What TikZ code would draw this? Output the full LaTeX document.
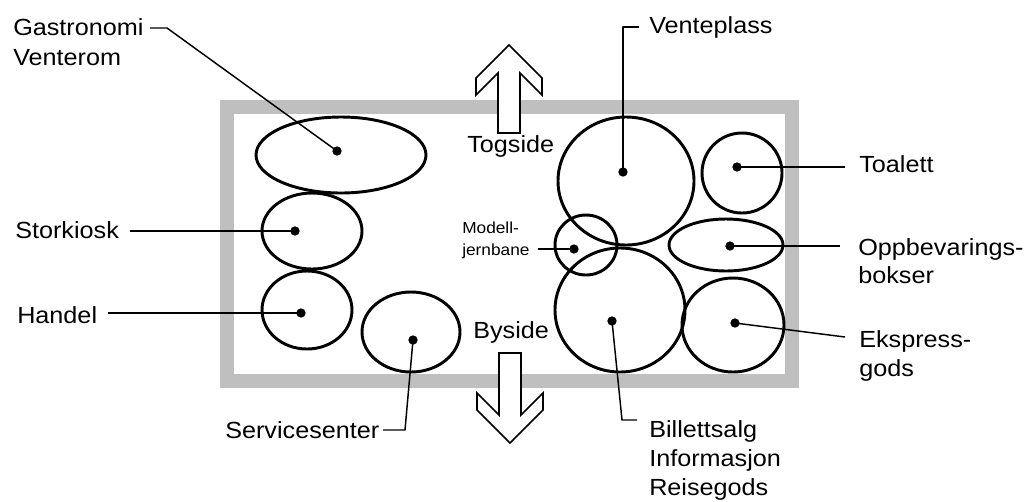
\documentclass[tikz,border=0pt]{standalone}
\usepackage{fontspec}
\setmainfont{Liberation Sans}[FakeStretch=1.08]
\begin{document}
\begin{tikzpicture}[x=0.75pt,y=-0.75pt,
  lbl/.style={anchor=base west, inner sep=0pt, font=\fontsize{17.5}{20}\selectfont},
  smalllbl/.style={anchor=base west, inner sep=0pt, font=\fontsize{12}{14}\selectfont},
  room/.style={line width=2.2pt},
  leader/.style={line width=1.1pt, line join=round},
  spot/.style={circle, fill, inner sep=0pt, minimum size=7pt},
  band/.style={draw=gray!50, line width=10.5pt},
  way/.style={draw, fill=white, line width=1.3pt, line join=miter}]
\useasboundingbox (0,0) rectangle (1024,501);

% station hall outline
\draw[band] (227,107) rectangle (792,381);

% direction arrows
\draw[way] (509,45) -- (542,78) -- (542,95) -- (520,73) -- (520,133) -- (498,133)
  -- (498,73) -- (476,95) -- (476,78) -- cycle;
\draw[way] (499,353) -- (521,353) -- (521,415) -- (543,393) -- (543,410) -- (510,443)
  -- (477,410) -- (477,393) -- (499,415) -- cycle;
\node[lbl] (togside) at (467,152) {Togside};
\node[lbl] (byside) at (473,338) {Byside};

% areas
\draw[room] (341,155) ellipse [x radius=85, y radius=38];
\draw[room] (312,231) ellipse [x radius=50, y radius=38];
\draw[room] (307,310) ellipse [x radius=45, y radius=39];
\draw[room] (411,332) ellipse [x radius=49, y radius=40];
\draw[room] (626,181) ellipse [x radius=68, y radius=64];
\draw[room] (742,173) ellipse [x radius=40, y radius=40];
\draw[room] (726,245) ellipse [x radius=57, y radius=26];
\draw[room] (586,245) ellipse [x radius=31, y radius=30];
\draw[room] (620,310) ellipse [x radius=65, y radius=62];
\draw[room] (733,325) ellipse [x radius=51, y radius=47];

% centre points
\node[spot] (dgas) at (337,151) {};
\node[spot] (dstork) at (295,231) {};
\node[spot] (dhandel) at (301,313) {};
\node[spot] (dservice) at (413,340) {};
\node[spot] (dvente) at (623,172) {};
\node[spot] (dtoalett) at (737,167) {};
\node[spot] (doppb) at (730,246) {};
\node[spot] (dmodell) at (574,249) {};
\node[spot] (dbillett) at (612,321) {};
\node[spot] (dekspress) at (735,323) {};

% labels
\node[lbl] (gas1) at (13,35) {Gastronomi};
\node[lbl] (gas2) at (13,65) {Venterom};
\node[lbl] (stork) at (15,238) {Storkiosk};
\node[lbl] (handel) at (17,323) {Handel};
\node[lbl] (service) at (225,438) {Servicesenter};
\node[lbl] (vente) at (649,33) {Venteplass};
\node[lbl] (toalett) at (859,172) {Toalett};
\node[lbl] (oppb1) at (858,255) {Oppbevarings-};
\node[lbl] (oppb2) at (858,283) {bokser};
\node[lbl] (eks1) at (859,347) {Ekspress-};
\node[lbl] (eks2) at (859,376) {gods};
\node[lbl] (bil1) at (649,437) {Billettsalg};
\node[lbl] (bil2) at (649,466) {Informasjon};
\node[lbl] (bil3) at (649,495) {Reisegods};
\node[smalllbl] (mod1) at (462,233) {Modell-};
\node[smalllbl] (mod2) at (462,255) {jernbane};

% leader ends
\coordinate (lgas) at (150,28);
\coordinate (lstork) at (130,231);
\coordinate (lhandel) at (108,313);
\coordinate (lservice) at (383,430);
\coordinate (lvente) at (639,27);
\coordinate (ltoalett) at (845,167);
\coordinate (loppb) at (840,246);
\coordinate (lmodell) at (538,249);
\coordinate (lbillett) at (637,420);
\coordinate (lekspress) at (845,337);

% leaders
\draw[leader] (lgas) -- (167,28) -- (dgas.center);
\draw[leader] (lstork) -- (dstork.center);
\draw[leader] (lhandel) -- (dhandel.center);
\draw[leader] (dservice.center) -- (405,430) -- (lservice);
\draw[leader] (dvente.center) -- (623,27) -- (lvente);
\draw[leader] (dtoalett.center) -- (ltoalett);
\draw[leader] (doppb.center) -- (loppb);
\draw[leader] (lmodell) -- (dmodell.center);
\draw[leader] (dbillett.center) -- (622,420) -- (lbillett);
\draw[leader] (dekspress.center) -- (lekspress);
\end{tikzpicture}
\end{document}
